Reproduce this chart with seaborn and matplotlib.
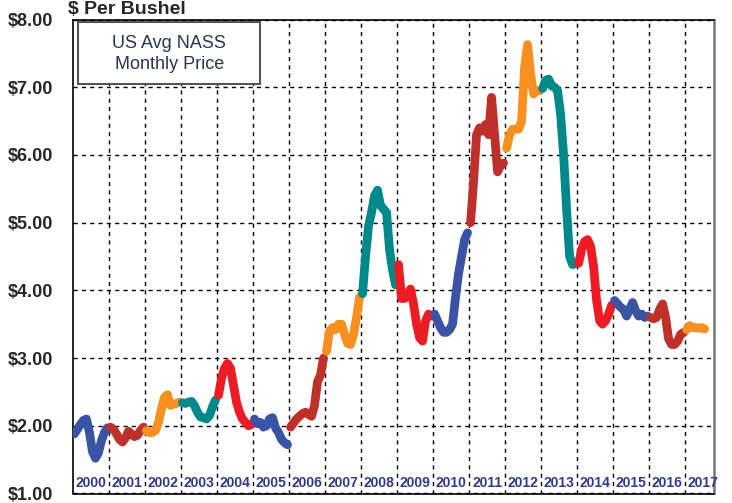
import numpy as np
import pandas as pd
import matplotlib
matplotlib.use("Agg")
import matplotlib.pyplot as plt
import seaborn as sns
from matplotlib.patches import Rectangle

# Monthly US average NASS price, $ per bushel, Jan..Dec
years = list(range(2000, 2018))
prices = {
    2000: [1.88, 1.95, 2.02, 2.08, 2.10, 1.90, 1.62, 1.52, 1.60, 1.78, 1.90, 1.97],
    2001: [1.98, 1.95, 1.88, 1.80, 1.76, 1.82, 1.92, 1.88, 1.84, 1.86, 1.93, 1.98],
    2002: [1.93, 1.90, 1.90, 1.93, 2.05, 2.25, 2.42, 2.46, 2.30, 2.32, 2.33, 2.35],
    2003: [2.34, 2.33, 2.35, 2.36, 2.30, 2.20, 2.13, 2.12, 2.10, 2.15, 2.28, 2.38],
    2004: [2.45, 2.70, 2.85, 2.92, 2.85, 2.60, 2.35, 2.20, 2.10, 2.05, 2.00, 2.02],
    2005: [2.10, 2.03, 2.05, 1.98, 2.00, 2.10, 2.12, 1.97, 1.90, 1.80, 1.75, 1.72],
    2006: [1.98, 2.04, 2.10, 2.14, 2.18, 2.20, 2.17, 2.14, 2.30, 2.65, 2.75, 3.00],
    2007: [3.10, 3.40, 3.45, 3.42, 3.50, 3.50, 3.35, 3.22, 3.20, 3.35, 3.60, 3.90],
    2008: [3.95, 4.50, 4.95, 5.15, 5.40, 5.48, 5.25, 5.20, 5.15, 4.60, 4.30, 4.08],
    2009: [4.38, 3.88, 3.88, 3.95, 4.02, 3.80, 3.50, 3.30, 3.25, 3.55, 3.65, 3.62],
    2010: [3.65, 3.55, 3.45, 3.38, 3.38, 3.42, 3.50, 3.90, 4.25, 4.50, 4.75, 4.85],
    2011: [5.00, 5.60, 6.30, 6.40, 6.35, 6.45, 6.30, 6.85, 6.30, 5.75, 5.85, 5.88],
    2012: [6.10, 6.30, 6.38, 6.38, 6.38, 6.50, 7.30, 7.63, 7.20, 6.90, 6.95, 6.95],
    2013: [6.98, 7.10, 7.12, 7.02, 7.00, 6.95, 6.60, 6.00, 5.20, 4.50, 4.38, 4.40],
    2014: [4.40, 4.60, 4.72, 4.75, 4.65, 4.35, 3.85, 3.55, 3.50, 3.55, 3.65, 3.78],
    2015: [3.85, 3.80, 3.75, 3.72, 3.62, 3.72, 3.82, 3.70, 3.62, 3.65, 3.60, 3.62],
    2016: [3.60, 3.58, 3.60, 3.72, 3.80, 3.60, 3.28, 3.20, 3.20, 3.25, 3.35, 3.38],
    2017: [3.42, 3.48, 3.45, 3.45, 3.44, 3.45, 3.43],
}
y_ticks = [1, 2, 3, 4, 5, 6, 7, 8]
y_labels = ["$1.00", "$2.00", "$3.00", "$4.00", "$5.00", "$6.00", "$7.00", "$8.00"]

year_colors = ["#3a53a4", "#c0302a", "#f7901e", "#00898a", "#ed1c24"]

rows = []
for yr in years:
    for m, p in enumerate(prices[yr]):
        rows.append({"year": yr, "x": yr + m / 12 + 0.04, "price": p})
df = pd.DataFrame(rows)
palette = {yr: year_colors[i % len(year_colors)] for i, yr in enumerate(years)}

sns.set_style("white")
plt.rcParams["font.family"] = ["Liberation Sans", "DejaVu Sans"]

fig = plt.figure(figsize=(7.32, 5.03), dpi=100)
ax = fig.add_axes([73 / 732, (503 - 493.5) / 503, (714 - 73) / 732, (493.5 - 19.5) / 503])

sns.lineplot(data=df, x="x", y="price", hue="year", units="year", estimator=None,
             palette=palette, linewidth=6.3, legend=False, sort=False, ax=ax,
             solid_capstyle="round", solid_joinstyle="round", zorder=3)

ax.set_xlim(2000, 2017.8)
ax.set_ylim(1, 8)
ax.set_xticks(range(2001, 2018))
ax.set_xticklabels([])
ax.set_yticks(y_ticks)
ax.set_yticklabels(y_labels, fontsize=13, fontweight="bold")
ax.tick_params(axis="both", length=0, pad=14)
ax.set_xlabel("")
ax.set_ylabel("")
ax.grid(True, color="black", linestyle=(0, (3, 3)), linewidth=1)

for side in ["left", "bottom", "top"]:
    ax.spines[side].set_color("black")
    ax.spines[side].set_linewidth(1.2)
ax.spines["right"].set_color("#777777")
ax.spines["right"].set_linewidth(1.8)

# year labels along the bottom
for yr in years:
    ax.text(yr + 0.5, 1.15, str(yr), ha="center", va="center", fontsize=10,
            fontweight="bold", color="#2e3a8c", zorder=4)

# title box
ax.add_patch(Rectangle((0.008, 0.864), 0.284, 0.131, transform=ax.transAxes,
                       facecolor="white", edgecolor="#555555", linewidth=1.5, zorder=5))
ax.text(0.15, 0.928, "US Avg NASS\nMonthly Price", transform=ax.transAxes,
        ha="center", va="center", fontsize=13, color="#2b3550", linespacing=1.3, zorder=6)

fig.text(68 / 732, 1 - 10 / 503, "$ Per Bushel", ha="left", va="center",
         fontsize=14, fontweight="bold")

fig.savefig("out.png", dpi=100, facecolor="white")
